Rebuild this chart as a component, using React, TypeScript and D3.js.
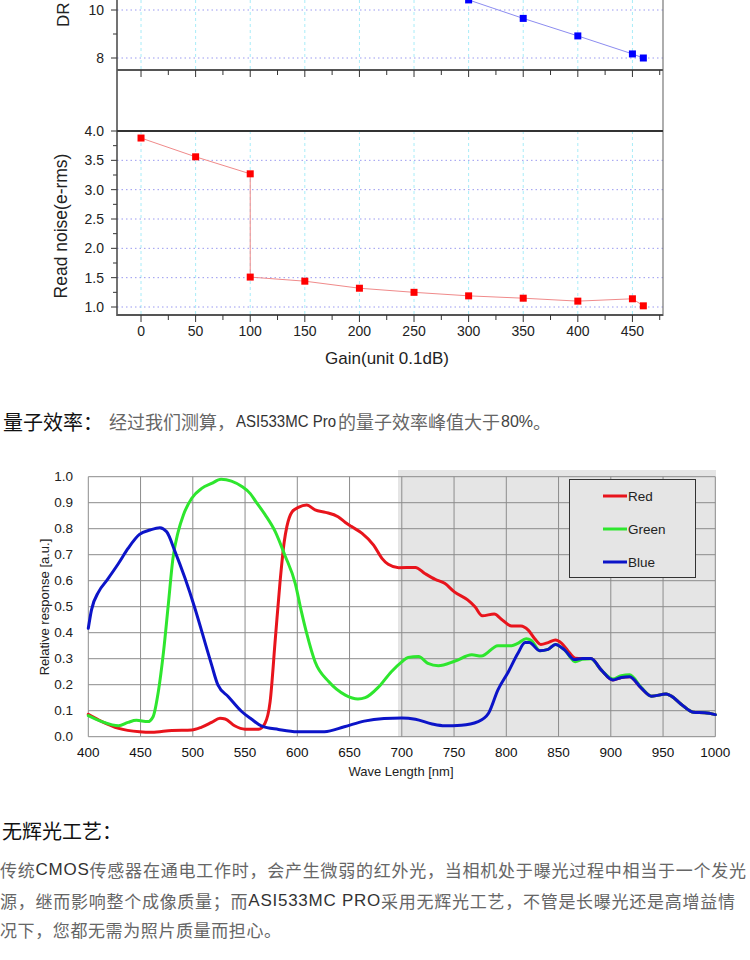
import React from 'react';
import * as d3 from 'd3';

// Read noise / DR vs gain (upper Origin-style chart, cropped at the top)
const gainTicks = [0, 50, 100, 150, 200, 250, 300, 350, 400, 450];
const rnTicks = [1.0, 1.5, 2.0, 2.5, 3.0, 3.5, 4.0];
const drTicks = [8, 10];
const rnGains = [0, 50, 100, 100, 150, 200, 250, 300, 350, 400, 450, 460];
const readNoise = [3.88, 3.56, 3.27, 1.51, 1.44, 1.32, 1.25, 1.19, 1.15, 1.1, 1.14, 1.02];
const drGains = [300, 350, 400, 450, 460];
const drStops = [10.42, 9.65, 8.92, 8.17, 8.0];

// Quantum efficiency curves [wavelength nm, relative response]
const qeXTicks = [400, 450, 500, 550, 600, 650, 700, 750, 800, 850, 900, 950, 1000];
const qeYTicks = [0, 0.1, 0.2, 0.3, 0.4, 0.5, 0.6, 0.7, 0.8, 0.9, 1.0];

const redQE: [number, number][] = [
  [400, 0.086], [413, 0.058], [429, 0.032], [449, 0.019], [461, 0.017], [480, 0.024], [499, 0.026],
  [508, 0.036], [518, 0.055], [526, 0.071], [531, 0.068], [540, 0.042], [550, 0.029], [563, 0.029],
  [569, 0.051], [574, 0.135], [579, 0.378], [583.5, 0.596], [587.5, 0.75], [590, 0.808], [595, 0.865],
  [601, 0.882], [609, 0.891], [617, 0.872], [627, 0.863], [639, 0.846], [646, 0.824], [652, 0.808],
  [662, 0.782], [673, 0.737], [681, 0.686], [687, 0.663], [697, 0.65], [713, 0.651], [722, 0.628],
  [732, 0.605], [741, 0.59], [750, 0.558], [763, 0.526], [770, 0.5], [777, 0.465], [788.5, 0.472],
  [795, 0.453], [805, 0.426], [814, 0.426], [821, 0.41], [827, 0.378], [833, 0.355], [840, 0.362],
  [847, 0.372], [853, 0.359], [859, 0.33], [866, 0.302], [873, 0.301], [881, 0.301], [891, 0.256],
  [902, 0.218], [910, 0.228], [918, 0.231], [929, 0.188], [939, 0.156], [953, 0.164], [958, 0.156],
  [967, 0.126], [979, 0.094], [990, 0.092], [1000, 0.085],
];

const greenQE: [number, number][] = [
  [400, 0.081], [413, 0.058], [429, 0.042], [438, 0.055], [446, 0.063], [457, 0.058], [462, 0.077],
  [467, 0.173], [472, 0.327], [476.5, 0.506], [481, 0.686], [486, 0.788], [491, 0.853], [499, 0.917],
  [508.5, 0.955], [518, 0.974], [527, 0.99], [537, 0.983], [547, 0.962], [555, 0.935], [560, 0.906],
  [569, 0.855], [579, 0.788], [588, 0.699], [598, 0.59], [604, 0.48], [609, 0.397], [617, 0.288],
  [630, 0.212], [646, 0.16], [658, 0.145], [665, 0.15], [678, 0.192], [690, 0.25], [700, 0.288],
  [706, 0.305], [716, 0.308], [725, 0.282], [735, 0.273], [751, 0.291], [767, 0.315], [776, 0.31],
  [792, 0.35], [805, 0.35], [811, 0.359], [819, 0.377], [824, 0.37], [832, 0.331], [840, 0.336],
  [847, 0.355], [856, 0.333], [866, 0.288], [873, 0.298], [881, 0.3], [891, 0.256], [902, 0.222],
  [910, 0.235], [918, 0.238], [929, 0.19], [939, 0.156], [953, 0.164], [958, 0.156], [967, 0.126],
  [979, 0.094], [990, 0.092], [1000, 0.085],
];

const blueQE: [number, number][] = [
  [400, 0.417], [403, 0.487], [410, 0.558], [417.5, 0.6], [429, 0.667], [438, 0.724], [449, 0.778],
  [459, 0.795], [468.5, 0.804], [475, 0.788], [483, 0.712], [492.5, 0.61], [502, 0.494], [511.5, 0.365],
  [518, 0.276], [524, 0.199], [534, 0.154], [547, 0.096], [556, 0.068], [566, 0.041], [582, 0.028],
  [600, 0.019], [626, 0.019], [645, 0.038], [664, 0.06], [683, 0.07], [700, 0.072], [713, 0.067],
  [729, 0.049], [741, 0.042], [757, 0.044], [773, 0.058], [783, 0.09], [792, 0.18], [802, 0.25],
  [811, 0.32], [818, 0.362], [822, 0.362], [832, 0.331], [840, 0.336], [847, 0.355], [856, 0.333],
  [865, 0.297], [873, 0.301], [881, 0.301], [891, 0.256], [902, 0.218], [910, 0.228], [918, 0.231],
  [929, 0.188], [939, 0.156], [953, 0.164], [958, 0.156], [967, 0.126], [979, 0.094], [990, 0.092],
  [1000, 0.085],
];

const qeSeries = [
  { name: 'Red', color: '#e8141c', data: redQE },
  { name: 'Green', color: '#2ee62e', data: greenQE },
  { name: 'Blue', color: '#0c14c8', data: blueQE },
];

const SANS = '"Liberation Sans", Arial, sans-serif';
const CJK = '"Noto Sans CJK SC", sans-serif';

const App: React.FC = () => {
  // upper chart scales
  const xG = d3.scaleLinear().domain([-22, 478]).range([117, 663]);
  const rnY = d3.scaleLinear().domain([1, 4]).range([307, 131]);
  const drY = d3.scaleLinear().domain([8, 10]).range([58, 10]);
  const minorGains = d3.range(0, 476, 25);

  const rnPts = rnGains.map((g, i) => [xG(g), rnY(readNoise[i])] as [number, number]);
  const drPts = drGains.map((g, i) => [xG(g), drY(drStops[i])] as [number, number]);
  const lin = d3.line();

  // QE scales
  const qx = d3.scaleLinear().domain([400, 1000]).range([88.3, 715.3]);
  const qy = d3.scaleLinear().domain([0, 1]).range([736.7, 476.7]);
  const qLine = d3.line<[number, number]>()
    .x(d => qx(d[0]))
    .y(d => qy(d[1]))
    .curve(d3.curveMonotoneX);

  return (
    <svg width={750} height={960} style={{ position: 'absolute', left: 0, top: 0, background: '#fff' }}
      fontFamily={SANS}>
      <rect x={0} y={0} width={750} height={960} fill="#fff" />

      {/* ---------- DR panel (cropped) ---------- */}
      {gainTicks.map(g => (
        <line key={'dv' + g} x1={xG(g)} x2={xG(g)} y1={0} y2={70} stroke="#a8ecf8" strokeDasharray="3,3" />
      ))}
      {drTicks.map(v => (
        <line key={'dh' + v} x1={117} x2={663} y1={drY(v)} y2={drY(v)} stroke="#9a9af0" strokeDasharray="1.5,3" />
      ))}
      <path d={lin(drPts) || ''} fill="none" stroke="#8c8cf0" strokeWidth={1} />
      {drPts.map((p, i) => (
        <rect key={'dp' + i} x={p[0] - 3.5} y={p[1] - 3.5} width={7} height={7} fill="#0000ff" />
      ))}
      {drTicks.map(v => (
        <g key={'dt' + v}>
          <line x1={111} x2={117} y1={drY(v)} y2={drY(v)} stroke="#333" />
          <text x={104} y={drY(v)} textAnchor="end" dominantBaseline="central" fontSize={14} fill="#222">{v}</text>
        </g>
      ))}
      <line x1={113} x2={117} y1={drY(9)} y2={drY(9)} stroke="#333" />
      <text transform="translate(69,27) rotate(-90)" fontSize={17} fill="#222">DR</text>

      {/* ---------- Read noise panel ---------- */}
      {gainTicks.map(g => (
        <line key={'rv' + g} x1={xG(g)} x2={xG(g)} y1={131} y2={315} stroke="#a8ecf8" strokeDasharray="3,3" />
      ))}
      {rnTicks.slice(0, -1).map(v => (
        <line key={'rh' + v} x1={117} x2={663} y1={rnY(v)} y2={rnY(v)} stroke="#9a9af0" strokeDasharray="1.5,3" />
      ))}
      <path d={lin(rnPts) || ''} fill="none" stroke="#f08a8a" strokeWidth={1} />
      {rnPts.map((p, i) => (
        <rect key={'rp' + i} x={p[0] - 3.5} y={p[1] - 3.5} width={7} height={7} fill="#ff0000" />
      ))}
      {rnTicks.map(v => (
        <g key={'rt' + v}>
          <line x1={111} x2={117} y1={rnY(v)} y2={rnY(v)} stroke="#333" />
          <text x={104} y={rnY(v)} textAnchor="end" dominantBaseline="central" fontSize={14} fill="#222">
            {v.toFixed(1)}
          </text>
        </g>
      ))}
      {d3.range(1.25, 4, 0.5).map(v => (
        <line key={'rm' + v} x1={113} x2={117} y1={rnY(v)} y2={rnY(v)} stroke="#333" />
      ))}

      {/* frame */}
      <line x1={117} x2={117} y1={0} y2={316} stroke="#444" strokeWidth={1.5} />
      <line x1={663} x2={663} y1={0} y2={316} stroke="#777" strokeWidth={1.2} />
      <line x1={117} x2={663} y1={70} y2={70} stroke="#555" strokeWidth={2} />
      <line x1={117} x2={663} y1={131} y2={131} stroke="#333" strokeWidth={2} />
      <line x1={117} x2={663} y1={315} y2={315} stroke="#555" strokeWidth={2} />
      {minorGains.map(g => (
        <g key={'gt' + g}>
          <line x1={xG(g)} x2={xG(g)} y1={70} y2={g % 50 === 0 ? 77 : 75} stroke="#333" />
          <line x1={xG(g)} x2={xG(g)} y1={315} y2={g % 50 === 0 ? 322 : 320} stroke="#333" />
        </g>
      ))}
      {gainTicks.map(g => (
        <text key={'gl' + g} x={xG(g)} y={331} textAnchor="middle" dominantBaseline="central" fontSize={14} fill="#222">
          {g}
        </text>
      ))}
      <text x={387} y={358} textAnchor="middle" dominantBaseline="central" fontSize={17} fill="#222">
        Gain(unit 0.1dB)
      </text>
      <text transform="translate(61,226) rotate(-90)" textAnchor="middle" dominantBaseline="central"
        fontSize={17.5} fill="#222">Read noise(e-rms)</text>

      {/* ---------- QE heading ---------- */}
      <text y={421} dominantBaseline="central" fontFamily={CJK}>
        <tspan x={3} fontSize={20} fill="#111">量子效率：</tspan>
        <tspan x={109} fontSize={18} fill="#666">经过我们测算，</tspan>
        <tspan x={236} fontSize={16} fill="#333" fontFamily={SANS} textLength={100}
          lengthAdjust="spacingAndGlyphs">ASI533MC Pro</tspan>
        <tspan x={338} fontSize={18} fill="#666">的量子效率峰值大于</tspan>
        <tspan x={501} fontSize={16} fill="#444" fontFamily={SANS}>80%</tspan>
        <tspan fontSize={18} fill="#666">。</tspan>
      </text>

      {/* ---------- QE chart ---------- */}
      <rect x={398} y={470} width={318} height={267} fill="#e5e5e5" />
      {qeYTicks.map(v => (
        <line key={'qh' + v} x1={qx(400)} x2={qx(1000)} y1={qy(v)} y2={qy(v)} stroke="#8c8c8c" strokeWidth={1} />
      ))}
      {qeXTicks.map(w => (
        <line key={'qv' + w} x1={qx(w)} x2={qx(w)} y1={qy(1)} y2={qy(0)} stroke="#8c8c8c" strokeWidth={1} />
      ))}
      {qeSeries.map(s => (
        <path key={s.name} d={qLine(s.data) || ''} fill="none" stroke={s.color} strokeWidth={3}
          strokeLinejoin="round" strokeLinecap="round" />
      ))}
      {qeYTicks.map(v => (
        <text key={'qyl' + v} x={73} y={qy(v)} textAnchor="end" dominantBaseline="central" fontSize={13.5} fill="#222">
          {v.toFixed(1)}
        </text>
      ))}
      {qeXTicks.map(w => (
        <text key={'qxl' + w} x={qx(w)} y={752} textAnchor="middle" dominantBaseline="central" fontSize={13.5} fill="#111">
          {w}
        </text>
      ))}
      <text x={401} y={771} textAnchor="middle" dominantBaseline="central" fontSize={13} fill="#222">
        Wave Length [nm]
      </text>
      <text transform="translate(44,607) rotate(-90)" textAnchor="middle" dominantBaseline="central"
        fontSize={13} fill="#222">Relative response [a.u.]</text>

      {/* legend */}
      <rect x={569.5} y={479.5} width={126} height={98} fill="#e5e5e5" stroke="#333" strokeWidth={1} />
      {qeSeries.map((s, i) => (
        <g key={'lg' + s.name}>
          <line x1={603} x2={627} y1={496 + i * 33} y2={496 + i * 33} stroke={s.color} strokeWidth={3} />
          <text x={628} y={496 + i * 33} dominantBaseline="central" fontSize={13.5} fill="#222">{s.name}</text>
        </g>
      ))}

      {/* ---------- No amp glow text ---------- */}
      <text x={2} y={830} dominantBaseline="central" fontFamily={CJK} fontSize={20} fill="#111">无辉光工艺：</text>
      <text x={0} y={869} dominantBaseline="central" fontFamily={CJK} fontSize={17} fill="#666"
        textLength={746} lengthAdjust="spacing">
        传统<tspan fill="#333" fontFamily={SANS}>CMOS</tspan>传感器在通电工作时，会产生微弱的红外光，当相机处于曝光过程中相当于一个发光
      </text>
      <text x={0} y={900} dominantBaseline="central" fontFamily={CJK} fontSize={17} fill="#666"
        textLength={735} lengthAdjust="spacing">
        源，继而影响整个成像质量；而<tspan fill="#333" fontFamily={SANS}>ASI533MC PRO</tspan>采用无辉光工艺，不管是长曝光还是高增益情
      </text>
      <text x={0} y={929} dominantBaseline="central" fontFamily={CJK} fontSize={17} fill="#666"
        textLength={281} lengthAdjust="spacing">
        况下，您都无需为照片质量而担心。
      </text>
    </svg>
  );
};

export default App;
